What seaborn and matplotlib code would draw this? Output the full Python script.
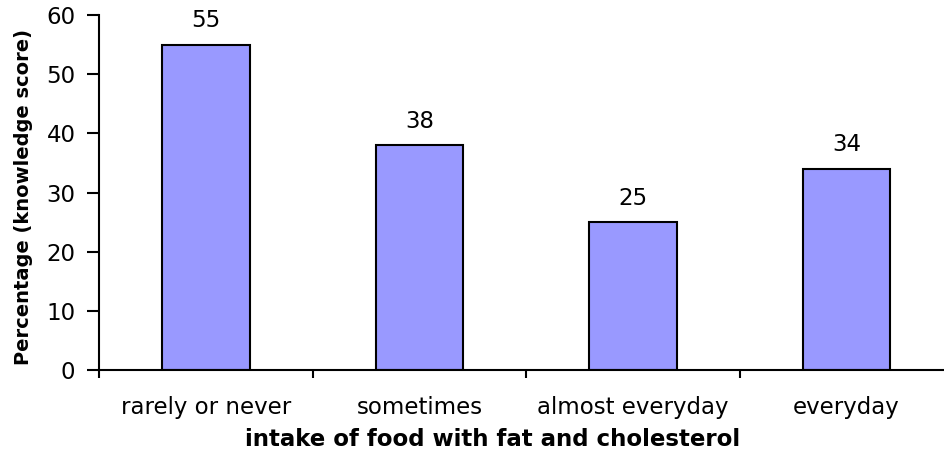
import matplotlib
matplotlib.use("Agg")
import matplotlib.pyplot as plt
import seaborn as sns
import pandas as pd
from matplotlib.ticker import FixedLocator

categories = ["rarely or never", "sometimes", "almost everyday", "everyday"]
values = [55, 38, 25, 34]
y_ticks = [0, 10, 20, 30, 40, 50, 60]

sns.set_style("white")
plt.rcParams["font.family"] = ["DejaVu Sans"]
plt.rcParams["text.color"] = "black"
plt.rcParams["axes.labelcolor"] = "black"
plt.rcParams["xtick.color"] = "black"
plt.rcParams["ytick.color"] = "black"

df = pd.DataFrame({"intake": categories, "pct": values})

fig = plt.figure(figsize=(9.44, 4.53), dpi=100)
ax = fig.add_axes([0.1049, 0.1832, 0.905, 0.7837])

sns.barplot(data=df, x="intake", y="pct", ax=ax, color="#9999FF",
            saturation=1, width=0.41, edgecolor="black", linewidth=1.5)

# value labels above each bar
for patch, v in zip(ax.patches, values):
    ax.annotate(f"{v}", (patch.get_x() + patch.get_width() / 2, v),
                xytext=(0, 9), textcoords="offset points",
                ha="center", va="bottom", fontsize=16.5, color="black")

ax.set_xlim(-0.5, len(categories) - 0.5)
ax.set_ylim(0, 60)
ax.set_yticks(y_ticks)
ax.tick_params(axis="y", which="major", direction="out", length=9, width=1.5,
               labelsize=16.5, pad=8, left=True, colors="black")
ax.tick_params(axis="x", which="major", length=0, labelsize=16.5, pad=19,
               colors="black")
# category separators as minor ticks
ax.xaxis.set_minor_locator(FixedLocator([i - 0.5 for i in range(len(categories))]))
ax.tick_params(axis="x", which="minor", direction="out", length=6, width=1.5,
               bottom=True, colors="black")

for side in ("top", "right"):
    ax.spines[side].set_visible(False)
for side in ("left", "bottom"):
    ax.spines[side].set_linewidth(1.5)
    ax.spines[side].set_color("black")

ax.set_xlabel("intake of food with fat and cholesterol", fontsize=16.5,
              fontweight="bold", color="black")
ax.xaxis.set_label_coords(0.461, -0.162)
ax.set_ylabel("Percentage (knowledge score)", fontsize=14,
              fontweight="bold", color="black")
ax.yaxis.set_label_coords(-0.077, 0.486)

fig.savefig("out.png", dpi=100)
